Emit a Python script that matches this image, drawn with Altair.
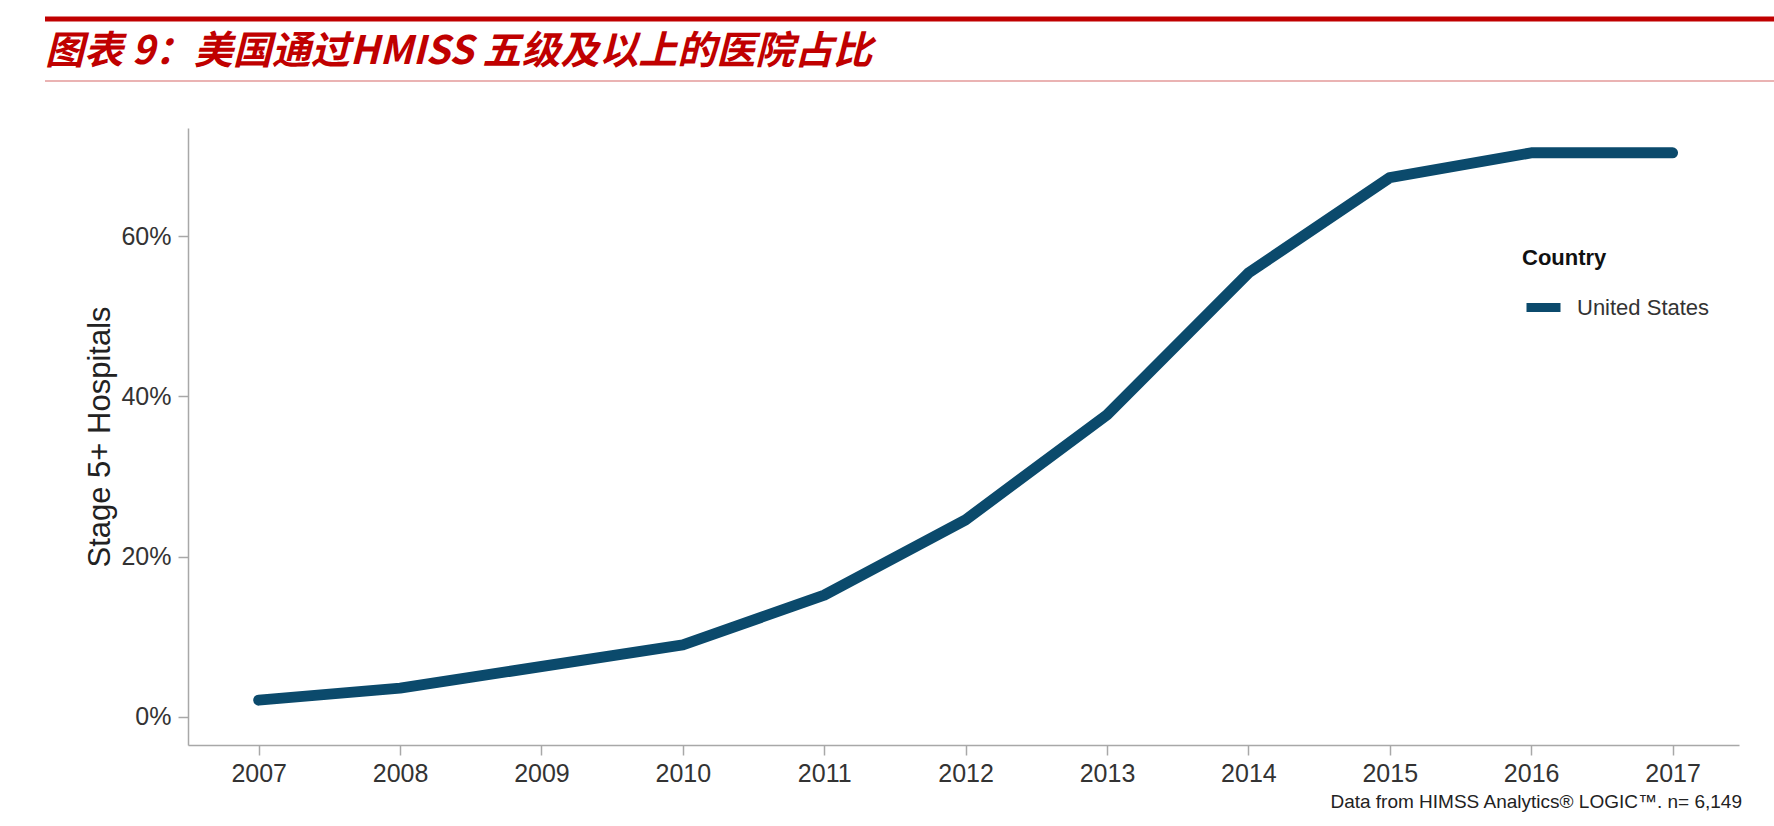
import altair as alt
import pandas as pd

# ---- data ----
years = [2007, 2008, 2009, 2010, 2011, 2012, 2013, 2014, 2015, 2016, 2017]
share_pct = [2.1, 3.6, 6.3, 9.0, 15.2, 24.6, 37.7, 55.4, 67.3, 70.4, 70.4]
country = "United States"
x_tick_values = years
y_tick_values = [0, 0.2, 0.4, 0.6]
title_text = "图表 9：美国通过HMISS 五级及以上的医院占比"
note_text = "Data from HIMSS Analytics® LOGIC™. n= 6,149"
y_title = "Stage 5+ Hospitals"
legend_title = "Country"

df = pd.DataFrame({
    "Year": years,
    "Share": [v / 100 for v in share_pct],
    "Country": [country] * len(years),
})
one = pd.DataFrame({"t": [title_text], "n": [note_text]})

W, H = 1551, 617
FONT = "Liberation Sans"
LINE_COLOR = "#0b4a6c"
RED = "#c00000"

line = alt.Chart(df).mark_line(strokeWidth=11, strokeCap="round", strokeJoin="round").encode(
    x=alt.X("Year:Q",
            scale=alt.Scale(domain=[2006.5, 2017.47], nice=False, zero=False),
            axis=alt.Axis(values=x_tick_values, format="d", title=None, labelPadding=6,
                          labelFlush=False)),
    y=alt.Y("Share:Q",
            scale=alt.Scale(domain=[-0.035, 0.735], nice=False, zero=False),
            axis=alt.Axis(values=y_tick_values, format=".0%", title=y_title, labelPadding=7,
                          titleFontSize=31, titleFont=FONT, titleFontWeight="normal",
                          titleColor="#222222", titlePadding=4)),
    color=alt.Color("Country:N",
                    scale=alt.Scale(domain=[country], range=[LINE_COLOR]),
                    legend=alt.Legend(title=legend_title, orient="none", legendX=1334, legendY=120,
                                      padding=0, titleFont=FONT, titleFontSize=22,
                                      titleFontWeight="bold", titleColor="#111111",
                                      titlePadding=16, labelFont=FONT, labelFontSize=22,
                                      labelColor="#333333", labelOffset=12,
                                      symbolType="stroke", symbolStrokeWidth=9,
                                      symbolSize=1156)),
)

top_bar = alt.Chart(one).mark_rule(color=RED, strokeWidth=5).encode(
    x=alt.value(-143), x2=alt.value(1586), y=alt.value(-109))
thin_bar = alt.Chart(one).mark_rule(color="#e39a9a", strokeWidth=1.5).encode(
    x=alt.value(-143), x2=alt.value(1586), y=alt.value(-47))
title = alt.Chart(one).mark_text(align="left", baseline="middle", font="Noto Sans CJK SC",
                                 fontSize=39, fontWeight="bold", fontStyle="italic",
                                 color=RED).encode(
    x=alt.value(-143), y=alt.value(-76), text="t:N")
note = alt.Chart(one).mark_text(align="right", baseline="middle", font=FONT, fontSize=19,
                                color="#222222").encode(
    x=alt.value(1554), y=alt.value(674), text="n:N")

chart = alt.layer(line, top_bar, thin_bar, title, note).properties(
    width=W, height=H,
    padding={"left": 188, "top": 128, "right": 35, "bottom": 81},
    autosize=alt.AutoSizeParams(type="none"),
    background="white",
).configure_view(stroke=None).configure_axis(
    grid=False, domainColor="#a8a8a8", tickColor="#a8a8a8", domainWidth=1.5, tickWidth=1.5,
    tickSize=10, labelFont=FONT, labelFontSize=25, labelColor="#333333",
)

chart.save("out.html", embed_options={"renderer": "svg", "actions": False})
